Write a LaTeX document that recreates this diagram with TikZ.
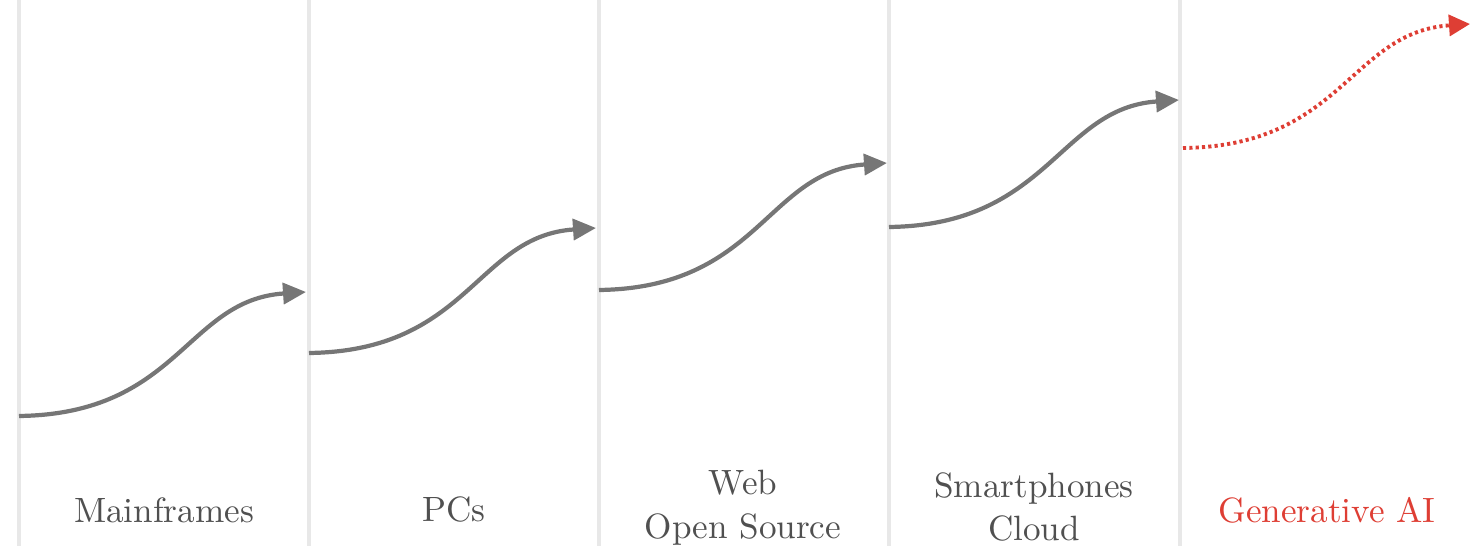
\documentclass[tikz,border=0pt]{standalone}
\usepackage{tikz}
\usetikzlibrary{arrows.meta, positioning, calc}

\definecolor{sepgray}{RGB}{232,232,232}
\definecolor{curvegray}{RGB}{118,118,118}
\definecolor{textgray}{RGB}{80,80,80}
\definecolor{airred}{RGB}{222,62,52}

\tikzset{
  era/.style={font=\fontsize{10}{12.5}\selectfont, text=textgray, align=center},
  wave/.style={curvegray, line width=1.2pt, -{Triangle[length=2.3mm, width=2.1mm]}},
  nextwave/.style={airred, line width=1.1pt, dash pattern=on 0.9pt off 0.9pt,
    -{Triangle[length=2.1mm, width=2.1mm]}}
}

\begin{document}
\begin{tikzpicture}[x=0.1mm, y=-0.1mm]
  \useasboundingbox (0,0) rectangle (1478,546);

  % Column separators
  \foreach \x in {19,309,599,889,1180}{
    \draw[sepgray, line width=0.9pt] (\x,0) -- (\x,546);
  }

  % Wave end points
  \coordinate (s1) at (19,416);   \coordinate (e1) at (306,292);
  \coordinate (s2) at (309,353);  \coordinate (e2) at (596,228);
  \coordinate (s3) at (599,290);  \coordinate (e3) at (887,163);
  \coordinate (s4) at (889,227);  \coordinate (e4) at (1179,100);
  \coordinate (s5) at (1183,148); \coordinate (e5) at (1470,24);

  % Past waves
  \foreach \i in {1,2,3,4}{
    \draw[wave] (s\i) .. controls ($(s\i)+(160,-2)$) and ($(e\i)+(-120,8)$) .. (e\i);
  }

  % Next wave
  \draw[nextwave] (s5) .. controls ($(s5)+(160,-2)$) and ($(e5)+(-120,8)$) .. (e5);

  % Labels
  \node[era] (mainframes) at (164,510) {Mainframes};
  \node[era] (pcs)        at (454,510) {PCs};
  \node[era] (web)        at (743,508) {Web\\Open Source};
  \node[era] (phones)     at (1034,507) {Smartphones\\Cloud};
  \node[era, text=airred] (genai) at (1327,510) {Generative AI};
\end{tikzpicture}
\end{document}
